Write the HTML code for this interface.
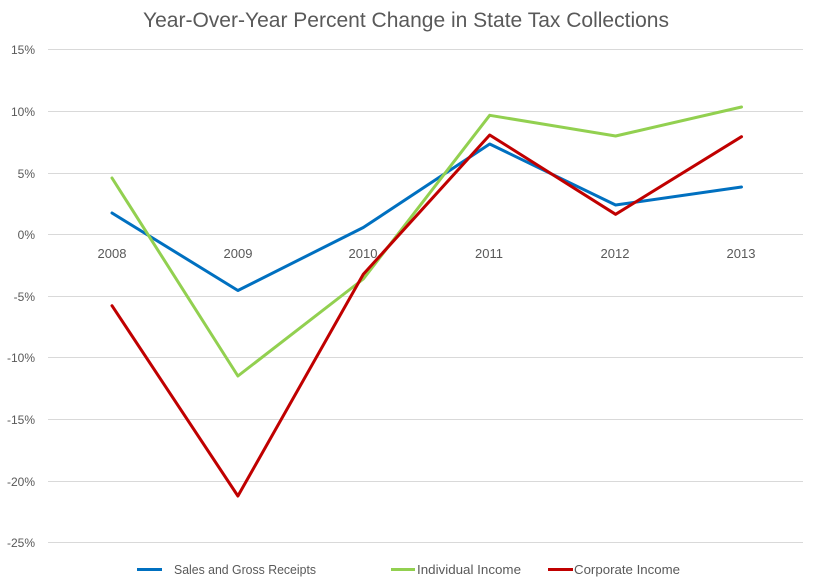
<!DOCTYPE html>
<html>
<head>
<meta charset="utf-8">
<style>
html,body{margin:0;padding:0;background:#fff;}
svg{display:block;}
text{font-family:"Liberation Sans",sans-serif;fill:#595959;}
</style>
</head>
<body>
<svg width="817" height="587" viewBox="0 0 817 587" xmlns="http://www.w3.org/2000/svg">
<rect width="817" height="587" fill="#fff"/>
<text x="406" y="27" font-size="21" text-anchor="middle" textLength="526" lengthAdjust="spacingAndGlyphs">Year-Over-Year Percent Change in State Tax Collections</text>
<g stroke="#D9D9D9" stroke-width="1">
<line x1="48" y1="49.5" x2="803" y2="49.5"/>
<line x1="48" y1="111.5" x2="803" y2="111.5"/>
<line x1="48" y1="173.5" x2="803" y2="173.5"/>
<line x1="48" y1="234.5" x2="803" y2="234.5"/>
<line x1="48" y1="296.5" x2="803" y2="296.5"/>
<line x1="48" y1="357.5" x2="803" y2="357.5"/>
<line x1="48" y1="419.5" x2="803" y2="419.5"/>
<line x1="48" y1="481.5" x2="803" y2="481.5"/>
<line x1="48" y1="542.5" x2="803" y2="542.5"/>
</g>
<g font-size="12" text-anchor="end">
<text x="35" y="54">15%</text>
<text x="35" y="116">10%</text>
<text x="35" y="178">5%</text>
<text x="35" y="239">0%</text>
<text x="35" y="301">-5%</text>
<text x="35" y="362">-10%</text>
<text x="35" y="424">-15%</text>
<text x="35" y="486">-20%</text>
<text x="35" y="547">-25%</text>
</g>
<g font-size="13" text-anchor="middle">
<text x="112" y="258">2008</text>
<text x="238" y="258">2009</text>
<text x="363" y="258">2010</text>
<text x="489" y="258">2011</text>
<text x="615" y="258">2012</text>
<text x="741" y="258">2013</text>
</g>
<g fill="none" stroke-width="3" stroke-linejoin="round" stroke-linecap="round">
<polyline stroke="#0070C0" points="112,213 237.9,290.5 363.3,227.5 489.7,144 615.6,205 741.5,187"/>
<polyline stroke="#92D050" points="112,178 237.9,376 363.3,279 489.7,115.3 615.6,136 741.5,107"/>
<polyline stroke="#C00000" points="112,305.7 237.9,496 363.3,274.3 489.7,135 615.6,214.3 741.5,136.7"/>
</g>
<g stroke-width="3">
<line x1="137" y1="569.5" x2="162" y2="569.5" stroke="#0070C0"/>
<line x1="391" y1="569.5" x2="415" y2="569.5" stroke="#92D050"/>
<line x1="548" y1="569.5" x2="573" y2="569.5" stroke="#C00000"/>
</g>
<g font-size="13">
<text x="174" y="574" textLength="142" lengthAdjust="spacingAndGlyphs">Sales and Gross Receipts</text>
<text x="417" y="574" textLength="104" lengthAdjust="spacingAndGlyphs">Individual Income</text>
<text x="574" y="574" textLength="106" lengthAdjust="spacingAndGlyphs">Corporate Income</text>
</g>
</svg>
</body>
</html>
